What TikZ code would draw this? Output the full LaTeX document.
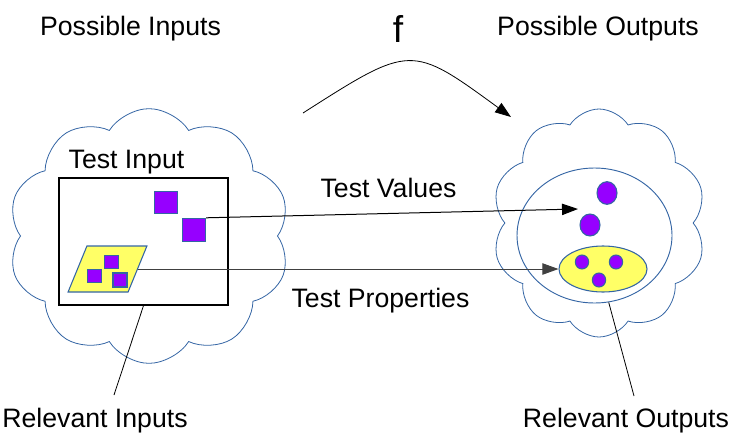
\documentclass[tikz,border=0pt]{standalone}
\usepackage{fontspec}
\setmainfont{Liberation Sans}
\usetikzlibrary{shapes.symbols,shapes.geometric,arrows.meta}
\definecolor{edge}{RGB}{52,101,164}
\definecolor{vio}{RGB}{150,0,255}
\definecolor{lemon}{RGB}{255,255,102}
\tikzset{
  lbl/.style={font=\fontsize{20}{24}\selectfont, anchor=base, inner sep=0pt},
  blob/.style={cloud, draw=edge, line width=0.6pt, cloud puffs=10, cloud puff arc=115,
    cloud ignores aspect, inner sep=0pt},
  sq/.style={draw=edge, fill=vio, line width=0.8pt, inner sep=0pt},
  dot/.style={ellipse, draw=edge, fill=vio, line width=0.8pt, inner sep=0pt},
  tip/.style={-{Triangle[length=12pt,width=8.5pt]}},
}
\begin{document}
\begin{tikzpicture}[x=0.75pt, y=-0.75pt]
  \useasboundingbox (0,0) rectangle (756,446);
  \node[lbl] (posin) at (130.5,35){Possible Inputs};
  \node[lbl] (posout) at (598,35){Possible Outputs};
  \node[lbl, font=\fontsize{28}{32}\selectfont] (fname) at (398,42){f};
  % the two clouds
  \node[blob, minimum width=211.5pt, minimum height=191pt] (incloud) at (149,236){};
  \node[blob, minimum width=160.5pt, minimum height=171pt] (outcloud) at (599,223){};
  % inputs
  \node[draw, line width=1pt, minimum width=126.75pt, minimum height=95.25pt, inner sep=0pt]
    (inbox) at (143.5,241.5){};
  \node[lbl] (intitle) at (126.5,168){Test Input};
  \node[sq, minimum size=17pt] (va) at (166,202.5){};
  \node[sq, minimum size=17.5pt] (vb) at (194,230){};
  \node[draw=edge, fill=lemon, line width=0.8pt, minimum width=45pt, minimum height=34.5pt,
    inner sep=0pt, xslant=0.41, transform shape] (props) at (107.5,269){};
  \node[sq, minimum size=10pt] (pa) at (94.5,276){};
  \node[sq, minimum size=10pt] (pb) at (111.5,262){};
  \node[sq, minimum size=10.5pt] (pc) at (120,280){};
  % outputs
  \node[ellipse, draw=edge, line width=0.7pt, minimum width=116.25pt, minimum height=101.25pt, inner sep=0pt]
    (outs) at (594.5,235.5){};
  \node[ellipse, draw=edge, fill=lemon, line width=0.8pt, minimum width=66pt, minimum height=34.5pt, inner sep=0pt]
    (relout) at (603,269){};
  \node[dot, minimum width=15pt, minimum height=17pt] (oa) at (607,193){};
  \node[dot, minimum width=15pt, minimum height=16.5pt] (ob) at (590,225){};
  \node[dot, minimum width=10pt, minimum height=10.5pt] (oc) at (582,262){};
  \node[dot, minimum width=10pt, minimum height=10.5pt] (od) at (616,262){};
  \node[dot, minimum width=10pt, minimum height=10.5pt] (oe) at (599,280){};
  % arrows
  \coordinate (fsrc) at (303,113);
  \coordinate (fdst) at (511,117);
  \draw[tip, line width=0.6pt] (fsrc) .. controls (411,44) .. (fdst);
  \coordinate (hitv) at (578,209);
  \draw[tip, line width=0.75pt] (vb.north east) -- (hitv);
  \draw[tip, line width=0.75pt, black!75] (props.east) -- (relout.west);
  \node[lbl] (tvals) at (388.5,197){Test Values};
  \node[lbl] (tprops) at (380.5,307){Test Properties};
  % pointers to the bottom labels
  \node[lbl] (relin) at (95,427){Relevant Inputs};
  \node[lbl] (relo) at (626,427){Relevant Outputs};
  \coordinate (inend) at (114,395);
  \coordinate (outend) at (634,396);
  \draw[line width=0.6pt] (inbox.south) -- (inend);
  \draw[line width=0.6pt] (outs.-78) -- (outend);
\end{tikzpicture}
\end{document}
